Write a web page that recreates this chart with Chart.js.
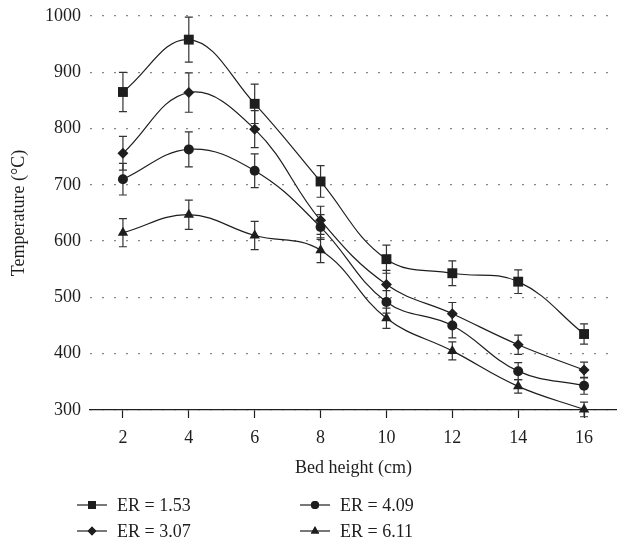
<!DOCTYPE html>
<html>
<head>
<meta charset="utf-8">
<script src="https://cdn.jsdelivr.net/npm/chart.js@4.4.1/dist/chart.umd.min.js"></script>
<style>
  html, body { margin: 0; padding: 0; background: #fff; }
  #wrap { width: 617px; height: 543px; }
</style>
</head>
<body>
<div id="wrap"><canvas id="chart" width="617" height="543"></canvas></div>
<script>
// Datos
const bedHeights = [2, 4, 6, 8, 10, 12, 14, 16];
const xTicks = [2, 4, 6, 8, 10, 12, 14, 16];
const yTicks = [300, 400, 500, 600, 700, 800, 900, 1000];

const seriesLabels = ['ER = 1.53', 'ER = 3.07', 'ER = 4.09', 'ER = 6.11'];
const er153 = [865, 958, 844, 706, 568, 543, 528, 435];
const er153Err = [35, 40, 35, 28, 25, 22, 21, 18];
const er307 = [756, 864, 799, 637, 523, 471, 416, 371];
const er307Err = [30, 35, 33, 25, 25, 20, 17, 14];
const er409 = [710, 763, 725, 625, 492, 450, 369, 343];
const er409Err = [28, 31, 30, 22, 20, 22, 15, 15];
const er611 = [615, 647, 610, 584, 463, 405, 342, 301];
const er611Err = [25, 26, 25, 22, 18, 16, 12, 13];

const ink = '#1e1e1e';
const serif = '"Liberation Serif", "DejaVu Serif", serif';

function makeSet(label, values, errors, style, radius) {
    return {
        label: label,
        data: bedHeights.map((x, i) => ({ x: x, y: values[i] })),
        errors: errors,
        borderColor: ink,
        borderWidth: 1.2,
        backgroundColor: ink,
        pointStyle: style,
        pointRadius: radius,
        pointBorderWidth: 0,
        pointBackgroundColor: ink,
        tension: 0.4,
        clip: false
    };
}

// Barras de error
const errorBars = {
    id: 'errorBars',
    beforeDatasetsDraw(chart) {
        const ctx = chart.ctx;
        const xs = chart.scales.x, ys = chart.scales.y;
        ctx.save();
        ctx.strokeStyle = '#333';
        ctx.lineWidth = 1.2;
        chart.data.datasets.forEach(ds => {
            ds.data.forEach((p, i) => {
                const px = xs.getPixelForValue(p.x);
                const top = ys.getPixelForValue(p.y + ds.errors[i]);
                const bot = ys.getPixelForValue(p.y - ds.errors[i]);
                ctx.beginPath();
                ctx.moveTo(px, top); ctx.lineTo(px, bot);
                ctx.moveTo(px - 4, top); ctx.lineTo(px + 4, top);
                ctx.moveTo(px - 4, bot); ctx.lineTo(px + 4, bot);
                ctx.stroke();
            });
        });
        ctx.restore();
    }
};

// Leyenda en dos columnas
const twoColLegend = {
    id: 'twoColLegend',
    afterDraw(chart) {
        const ctx = chart.ctx;
        const place = [[77, 505], [77, 531], [300, 505], [300, 531]];
        ctx.save();
        chart.data.datasets.forEach((ds, i) => {
            const [x, y] = place[i];
            ctx.strokeStyle = ink;
            ctx.lineWidth = 1.2;
            ctx.beginPath();
            ctx.moveTo(x, y); ctx.lineTo(x + 30, y);
            ctx.stroke();
            ctx.fillStyle = ink;
            Chart.helpers.drawPoint(ctx, {
                pointStyle: ds.pointStyle,
                radius: ds.pointRadius * 0.8,
                rotation: 0,
                borderWidth: 0
            }, x + 15, y);
            ctx.fill();
            ctx.font = '18px ' + serif;
            ctx.textBaseline = 'middle';
            ctx.textAlign = 'left';
            ctx.fillText(ds.label, x + 40, y + 1);
        });
        ctx.restore();
    }
};

new Chart(document.getElementById('chart'), {
    type: 'line',
    data: {
        datasets: [
            makeSet(seriesLabels[0], er153, er153Err, 'rect', 7),
            makeSet(seriesLabels[1], er307, er307Err, 'rectRot', 5.5),
            makeSet(seriesLabels[2], er409, er409Err, 'circle', 5),
            makeSet(seriesLabels[3], er611, er611Err, 'triangle', 6)
        ]
    },
    options: {
        responsive: false,
        animation: false,
        layout: { autoPadding: false, padding: { top: 16, bottom: 59, left: 0, right: 0 } },
        plugins: {
            legend: { display: false },
            tooltip: { enabled: false }
        },
        scales: {
            x: {
                type: 'linear',
                min: 1,
                max: 17,
                afterBuildTicks: s => { s.ticks = xTicks.map(v => ({ value: v })); },
                afterFit: s => { s.height = 74; },
                grid: { drawOnChartArea: false, drawTicks: true, tickLength: 8, tickColor: ink, tickWidth: 1.2 },
                border: { display: true, color: ink, width: 1.3 },
                ticks: { font: { family: serif, size: 18 }, color: ink, padding: 9, callback: v => String(v) },
                title: { display: true, text: 'Bed height (cm)', font: { family: serif, size: 18 }, color: ink, padding: { top: 0, bottom: 5 } }
            },
            y: {
                min: 300,
                max: 1000,
                afterBuildTicks: s => { s.ticks = yTicks.map(v => ({ value: v })); },
                afterFit: s => { s.width = 90; s.paddingTop = 0; s.paddingBottom = 0; },
                grid: { drawTicks: false, color: '#888', lineWidth: 1.3 },
                border: { display: false, dash: [2, 10] },
                ticks: { font: { family: serif, size: 18 }, color: ink, padding: 9, callback: v => String(v) },
                title: { display: true, text: 'Temperature (°C)', font: { family: serif, size: 18 }, color: ink, padding: { top: 8, bottom: 0 } }
            }
        }
    },
    plugins: [errorBars, twoColLegend]
});
</script>
</body>
</html>
